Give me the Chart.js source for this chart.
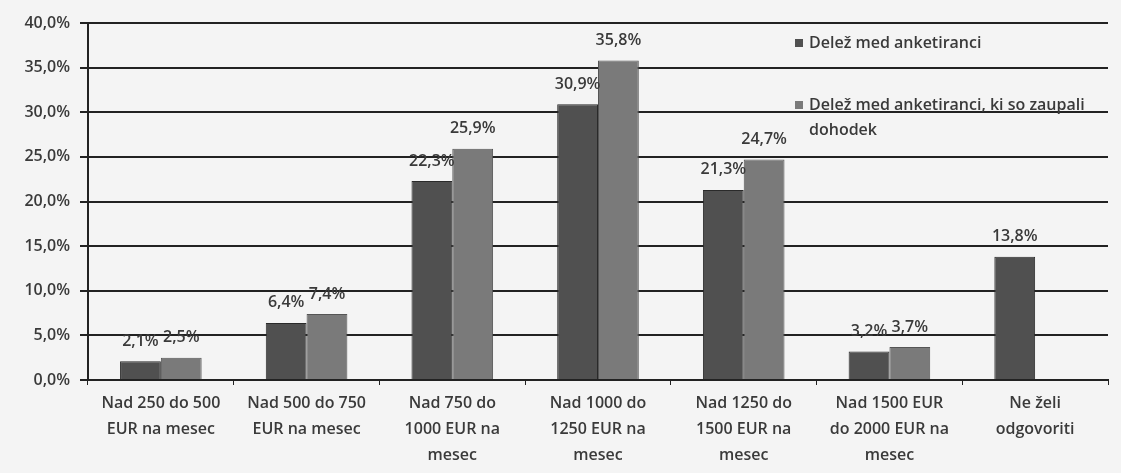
<!DOCTYPE html>
<html>
<head>
<meta charset="utf-8">
<script src="https://cdn.jsdelivr.net/npm/chart.js@4"></script>
<style>
  body { margin: 0; background: #f4f4f4; }
  #wrap { width: 1121px; height: 473px; }
</style>
</head>
<body>
<div id="wrap"><canvas id="incomeChart"></canvas></div>
<script>
const categories = [
    ['Nad 250 do 500', 'EUR na mesec'],
    ['Nad 500 do 750', 'EUR na mesec'],
    ['Nad 750 do', '1000 EUR na', 'mesec'],
    ['Nad 1000 do', '1250 EUR na', 'mesec'],
    ['Nad 1250 do', '1500 EUR na', 'mesec'],
    ['Nad 1500 EUR', 'do 2000 EUR na', 'mesec'],
    ['Ne želi', 'odgovoriti']
];
const seriesNames = ['Delež med anketiranci', 'Delež med anketiranci, ki so zaupali dohodek'];
const shareAll = [2.1, 6.4, 22.3, 30.9, 21.3, 3.2, 13.8];
const shareIncome = [2.5, 7.4, 25.9, 35.8, 24.7, 3.7, null];
const yTicks = [0, 5, 10, 15, 20, 25, 30, 35, 40];

const fmt = v => v.toFixed(1).replace('.', ',') + '%';
const FONT = 'Open Sans';
const TXT = '#3a3a3a';

// value labels over each bar
const valueLabels = {
    id: 'valueLabels',
    afterDatasetsDraw(chart) {
        const ctx = chart.ctx;
        ctx.save();
        ctx.font = '600 16px "' + FONT + '"';
        ctx.fillStyle = TXT;
        ctx.textAlign = 'center';
        ctx.textBaseline = 'bottom';
        chart.data.datasets.forEach((ds, i) => {
            chart.getDatasetMeta(i).data.forEach((bar, j) => {
                const v = ds.data[j];
                if (v == null) return;
                ctx.fillText(fmt(v), bar.x, bar.y - 12);
            });
        });
        ctx.restore();
    }
};

// legend drawn inside the plot, top right
const innerLegend = {
    id: 'innerLegend',
    afterDraw(chart) {
        const ctx = chart.ctx;
        const x = 795, rows = [[43, [seriesNames[0]]], [105, ['Delež med anketiranci, ki so zaupali', 'dohodek']]];
        ctx.save();
        ctx.font = '600 16px "' + FONT + '"';
        ctx.textBaseline = 'middle';
        rows.forEach((r, i) => {
            const ds = chart.data.datasets[i];
            ctx.fillStyle = ds.backgroundColor;
            ctx.fillRect(x, r[0] - 4, 8, 8);
            ctx.fillStyle = TXT;
            r[1].forEach((t, k) => ctx.fillText(t, x + 14, r[0] + k * 25));
        });
        ctx.restore();
    }
};

new Chart(document.getElementById('incomeChart'), {
    type: 'bar',
    data: {
        labels: categories,
        datasets: [{
            label: seriesNames[0],
            data: shareAll,
            backgroundColor: '#505050',
            borderColor: '#2a2a2a',
            borderWidth: 1
        }, {
            label: seriesNames[1],
            data: shareIncome,
            backgroundColor: '#7a7a7a',
            borderColor: '#555',
            borderWidth: 1
        }]
    },
    options: {
        responsive: true,
        maintainAspectRatio: false,
        animation: false,
        categoryPercentage: 0.56,
        barPercentage: 1.0,
        layout: { padding: { top: 23, right: 13, left: 4, bottom: 0 } },
        plugins: {
            legend: { display: false },
            tooltip: { enabled: false }
        },
        scales: {
            x: {
                grid: { drawOnChartArea: false, drawTicks: true, tickLength: 5, color: '#222' },
                border: { color: '#222', width: 2 },
                ticks: { color: TXT, font: { family: FONT, size: 16, weight: '600', lineHeight: 1.6 }, maxRotation: 0, autoSkip: false, padding: 6 },
                afterFit: s => { s.height = 93; }
            },
            y: {
                min: 0,
                max: 40,
                afterBuildTicks: s => { s.ticks = yTicks.map(v => ({ value: v })); },
                grid: { color: '#222', lineWidth: 2, tickLength: 8 },
                border: { color: '#222', width: 2 },
                ticks: { color: TXT, font: { family: FONT, size: 16, weight: '600' }, padding: 10, callback: v => fmt(v) },
                afterFit: s => { s.width = 84; }
            }
        }
    },
    plugins: [valueLabels, innerLegend]
});
</script>
</body>
</html>
